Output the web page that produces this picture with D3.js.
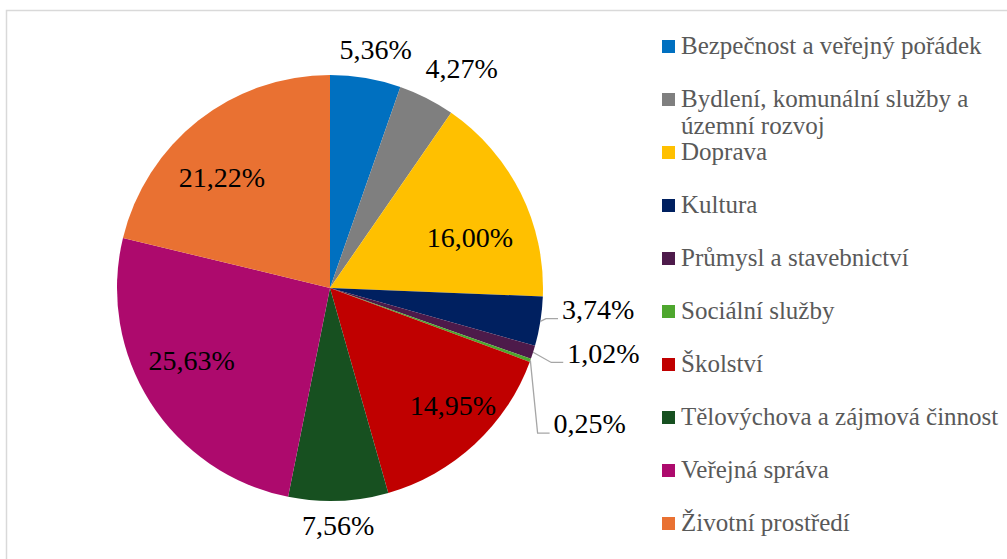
<!DOCTYPE html>
<html>
<head>
<meta charset="utf-8">
<script src="https://cdn.jsdelivr.net/npm/d3@7"></script>
<style>
  html, body { margin: 0; padding: 0; background: #fff; }
  svg { display: block; }
  svg text { font-family: 'Liberation Serif', Tinos, 'Times New Roman', 'DejaVu Serif', serif; }
  .pct { font-size: 28px; fill: #000; }
  .legend text { font-size: 25px; fill: #595959; }
</style>
</head>
<body>
<svg width="1007" height="559"></svg>
<script>
const categories = [
  "Bezpečnost a veřejný pořádek",
  "Bydlení, komunální služby a územní rozvoj",
  "Doprava",
  "Kultura",
  "Průmysl a stavebnictví",
  "Sociální služby",
  "Školství",
  "Tělovýchova a zájmová činnost",
  "Veřejná správa",
  "Životní prostředí"
];
const shares = [5.36, 4.27, 16.0, 3.74, 1.02, 0.25, 14.95, 7.56, 25.63, 21.22];
const legendLines = [
  ["Bezpečnost a veřejný pořádek"],
  ["Bydlení, komunální služby a", "územní rozvoj"],
  ["Doprava"],
  ["Kultura"],
  ["Průmysl a stavebnictví"],
  ["Sociální služby"],
  ["Školství"],
  ["Tělovýchova a zájmová činnost"],
  ["Veřejná správa"],
  ["Životní prostředí"]
];

const colors = ["#0070c0", "#7f7f7f", "#ffc000", "#002060", "#4d1a4a",
                "#4ea72e", "#c00000", "#175020", "#ad0a6d", "#e97132"];

// label placement: [angle shift in degrees from slice middle, radius, leader line?]
const labelPlace = [
  [1.2, 243, false], [4, 256, false], [6.5, 149, false], [-4.5, 269, true],
  [-4.2, 281, true], [7.7, 293, true], [-3.5, 170, false], [0.3, 237, false],
  [5, 156, false], [-6, 155, false]
];

const svg = d3.select("svg");
const cx = 330, cy = 288, R = 213;
const serif = "'Liberation Serif', Tinos, 'Times New Roman', 'DejaVu Serif', serif";

svg.append("rect")
  .attr("x", 6.5).attr("y", 10.5)
  .attr("width", 1020).attr("height", 580)
  .attr("fill", "none")
  .attr("stroke", "#d9d9d9")
  .attr("stroke-width", 1.5);

const fmt = v => d3.format(".2f")(v).replace(".", ",") + "%";

const pie = d3.pie().sort(null).value(d => d.value);
const arcs = pie(categories.map((c, i) => ({ name: c, value: shares[i], i })));
const arc = d3.arc().innerRadius(0).outerRadius(R);

const g = svg.append("g").attr("transform", `translate(${cx},${cy})`);

g.selectAll("path.slice")
  .data(arcs)
  .enter()
  .append("path")
  .attr("class", "slice")
  .attr("d", arc)
  .attr("fill", d => colors[d.data.i]);

const polar = (a, r) => [r * Math.sin(a), -r * Math.cos(a)];

arcs.forEach(d => {
  const p = labelPlace[d.data.i];
  const mid = (d.startAngle + d.endAngle) / 2;
  const [lx, ly] = polar(mid + p[0] * Math.PI / 180, p[1]);
  const t = g.append("text")
    .attr("class", "pct")
    .attr("font-family", serif)
    .attr("x", lx)
    .attr("y", ly)
    .attr("dy", "0.35em")
    .attr("text-anchor", "middle")
    .text(fmt(d.data.value));
  if (p[2]) {
    const w = t.node().getComputedTextLength();
    const left = lx - w / 2 - 4;
    const lineY = ly + 9.5;
    const start = polar(mid, R);
    g.append("path")
      .attr("d", d3.line()([start, [left - 12, lineY], [left, lineY]]))
      .attr("fill", "none")
      .attr("stroke", "#a6a6a6")
      .attr("stroke-width", 1.3);
  }
});

const legendY = d3.scaleLinear().domain([0, 9]).range([54, 531]);

const items = svg.append("g")
  .attr("class", "legend")
  .selectAll("g")
  .data(legendLines)
  .enter()
  .append("g")
  .attr("transform", (d, i) => `translate(662, ${legendY(i)})`);

items.append("rect")
  .attr("x", 0).attr("y", -14)
  .attr("width", 13).attr("height", 13)
  .attr("fill", (d, i) => colors[i]);

items.append("text")
  .attr("x", 19)
  .attr("font-family", serif)
  .selectAll("tspan")
  .data(d => d)
  .enter()
  .append("tspan")
  .attr("x", 19)
  .attr("dy", (d, i) => i === 0 ? 0 : 27)
  .text(d => d);
</script>
</body>
</html>
